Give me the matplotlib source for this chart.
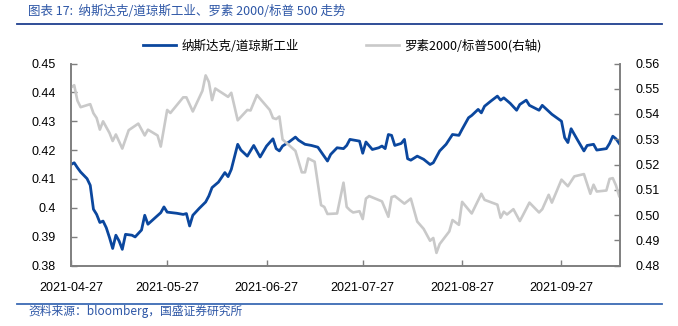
import matplotlib
matplotlib.use('Agg')
import matplotlib.pyplot as plt
import matplotlib.dates as mdates
from matplotlib.lines import Line2D
import pandas as pd

plt.rcParams['font.family'] = ['Liberation Sans', 'Noto Sans CJK SC', 'DejaVu Sans']

# 纳斯达克/道琼斯工业 (left axis)
ndx_dates = [
    '2021-04-27', '2021-04-28', '2021-04-29', '2021-04-30', '2021-05-02', '2021-05-03',
    '2021-05-04', '2021-05-05', '2021-05-06', '2021-05-07', '2021-05-08', '2021-05-09',
    '2021-05-10', '2021-05-11', '2021-05-12', '2021-05-13', '2021-05-14', '2021-05-16',
    '2021-05-17', '2021-05-19', '2021-05-20', '2021-05-21', '2021-05-23', '2021-05-25',
    '2021-05-26', '2021-05-27', '2021-05-30', '2021-06-01', '2021-06-02', '2021-06-03',
    '2021-06-04', '2021-06-06', '2021-06-08', '2021-06-09', '2021-06-10', '2021-06-12',
    '2021-06-14', '2021-06-15', '2021-06-16', '2021-06-18', '2021-06-19', '2021-06-21',
    '2021-06-23', '2021-06-25', '2021-06-27', '2021-06-29', '2021-06-30', '2021-07-01',
    '2021-07-02', '2021-07-04', '2021-07-06', '2021-07-07', '2021-07-09', '2021-07-11',
    '2021-07-13', '2021-07-16', '2021-07-17', '2021-07-19', '2021-07-21', '2021-07-22',
    '2021-07-23', '2021-07-26', '2021-07-27', '2021-07-28', '2021-07-30', '2021-08-01',
    '2021-08-02', '2021-08-03', '2021-08-04', '2021-08-05', '2021-08-06', '2021-08-08',
    '2021-08-09', '2021-08-10', '2021-08-11', '2021-08-13', '2021-08-15', '2021-08-17',
    '2021-08-18', '2021-08-20', '2021-08-22', '2021-08-24', '2021-08-26', '2021-08-27',
    '2021-08-29', '2021-08-30', '2021-09-01', '2021-09-02', '2021-09-03', '2021-09-05',
    '2021-09-07', '2021-09-08', '2021-09-09', '2021-09-11', '2021-09-13', '2021-09-14',
    '2021-09-16', '2021-09-17', '2021-09-20', '2021-09-21', '2021-09-24', '2021-09-27',
    '2021-09-28', '2021-09-29', '2021-09-30', '2021-10-02', '2021-10-04', '2021-10-05',
    '2021-10-07', '2021-10-08', '2021-10-11', '2021-10-12', '2021-10-13', '2021-10-14',
    '2021-10-15',
]
ndx_ratio = [
    0.4150, 0.4156, 0.4139, 0.4124, 0.4101, 0.4078,
    0.3995, 0.3977, 0.3949, 0.3954, 0.3931, 0.3897,
    0.3859, 0.3905, 0.3885, 0.3856, 0.3908, 0.3905,
    0.3899, 0.3923, 0.3974, 0.3943, 0.3963, 0.3983,
    0.4003, 0.3985, 0.3981, 0.3977, 0.3980, 0.3937,
    0.3974, 0.3998, 0.4020, 0.4041, 0.4070, 0.4089,
    0.4122, 0.4108, 0.4133, 0.4220, 0.4200, 0.4179,
    0.4216, 0.4176, 0.4214, 0.4239, 0.4205, 0.4197,
    0.4214, 0.4228, 0.4245, 0.4234, 0.4220, 0.4216,
    0.4210, 0.4162, 0.4185, 0.4208, 0.4205, 0.4216,
    0.4237, 0.4231, 0.4189, 0.4228, 0.4202, 0.4208,
    0.4214, 0.4205, 0.4254, 0.4251, 0.4216, 0.4223,
    0.4237, 0.4170, 0.4165, 0.4179, 0.4168, 0.4150,
    0.4156, 0.4197, 0.4220, 0.4254, 0.4251, 0.4272,
    0.4312, 0.4320, 0.4341, 0.4329, 0.4352, 0.4370,
    0.4387, 0.4373, 0.4381, 0.4362, 0.4338, 0.4358,
    0.4373, 0.4355, 0.4338, 0.4355, 0.4324, 0.4300,
    0.4243, 0.4226, 0.4274, 0.4235, 0.4197, 0.4216,
    0.4220, 0.4200, 0.4205, 0.4223, 0.4248, 0.4239,
    0.4223,
]

# 罗素2000/标普500 (right axis)
rut_dates = [
    '2021-04-27', '2021-04-28', '2021-04-29', '2021-04-30', '2021-05-03', '2021-05-04',
    '2021-05-05', '2021-05-06', '2021-05-07', '2021-05-09', '2021-05-10', '2021-05-11',
    '2021-05-13', '2021-05-15', '2021-05-18', '2021-05-20', '2021-05-21', '2021-05-24',
    '2021-05-25', '2021-05-27', '2021-05-28', '2021-06-01', '2021-06-02', '2021-06-04',
    '2021-06-07', '2021-06-08', '2021-06-09', '2021-06-10', '2021-06-11', '2021-06-15',
    '2021-06-16', '2021-06-18', '2021-06-21', '2021-06-22', '2021-06-24', '2021-06-28',
    '2021-06-29', '2021-06-30', '2021-07-01', '2021-07-02', '2021-07-06', '2021-07-08',
    '2021-07-09', '2021-07-10', '2021-07-12', '2021-07-14', '2021-07-15', '2021-07-16',
    '2021-07-19', '2021-07-21', '2021-07-22', '2021-07-23', '2021-07-24', '2021-07-26',
    '2021-07-27', '2021-07-28', '2021-07-29', '2021-08-02', '2021-08-04', '2021-08-05',
    '2021-08-06', '2021-08-09', '2021-08-11', '2021-08-13', '2021-08-15', '2021-08-17',
    '2021-08-18', '2021-08-19', '2021-08-20', '2021-08-23', '2021-08-24', '2021-08-26',
    '2021-08-27', '2021-08-30', '2021-09-02', '2021-09-03', '2021-09-07', '2021-09-08',
    '2021-09-09', '2021-09-10', '2021-09-12', '2021-09-14', '2021-09-15', '2021-09-17',
    '2021-09-20', '2021-09-21', '2021-09-23', '2021-09-24', '2021-09-27', '2021-09-29',
    '2021-10-01', '2021-10-04', '2021-10-06', '2021-10-07', '2021-10-08', '2021-10-11',
    '2021-10-12', '2021-10-13', '2021-10-14', '2021-10-15',
]
rut_ratio = [
    0.5505, 0.5514, 0.5453, 0.5427, 0.5439, 0.5403,
    0.5384, 0.5338, 0.5371, 0.5325, 0.5293, 0.5319,
    0.5263, 0.5336, 0.5362, 0.5315, 0.5338, 0.5315,
    0.5271, 0.5416, 0.5404, 0.5466, 0.5466, 0.5410,
    0.5492, 0.5553, 0.5527, 0.5455, 0.5501, 0.5468,
    0.5484, 0.5375, 0.5416, 0.5414, 0.5475, 0.5416,
    0.5384, 0.5380, 0.5390, 0.5299, 0.5254, 0.5169,
    0.5169, 0.5224, 0.5211, 0.5039, 0.5032, 0.5004,
    0.5006, 0.5128, 0.5032, 0.5019, 0.5010, 0.5015,
    0.4984, 0.5065, 0.5075, 0.5054, 0.4993, 0.5071,
    0.5075, 0.5045, 0.5065, 0.4974, 0.4945, 0.4898,
    0.4909, 0.4850, 0.4885, 0.4935, 0.4980, 0.4961,
    0.5052, 0.5006, 0.5084, 0.5060, 0.5041, 0.4989,
    0.5013, 0.5002, 0.5023, 0.4976, 0.5000, 0.5049,
    0.5010, 0.5023, 0.5080, 0.5049, 0.5140, 0.5114,
    0.5153, 0.5162, 0.5084, 0.5120, 0.5093, 0.5097,
    0.5143, 0.5146, 0.5117, 0.5075,
]

tick_dates = ['2021-04-27', '2021-05-27', '2021-06-27', '2021-07-27', '2021-08-27', '2021-09-27']
left_ticks = [0.38, 0.39, 0.40, 0.41, 0.42, 0.43, 0.44, 0.45]
right_ticks = [0.48, 0.49, 0.50, 0.51, 0.52, 0.53, 0.54, 0.55, 0.56]

BLUE = '#0B479E'
GRAY = '#C9C9C9'
SPINE = '#7F7F7F'
TITLE_BLUE = '#2D56A6'

fig = plt.figure(figsize=(6.78, 3.26), dpi=100)
ax = fig.add_axes([71 / 678, 1 - 265.5 / 326, (620 - 71) / 678, (265.5 - 63.5) / 326])
ax2 = ax.twinx()

x1 = pd.to_datetime(ndx_dates)
x2 = pd.to_datetime(rut_dates)
l1, = ax.plot(x1, ndx_ratio, color=BLUE, lw=2.0, solid_joinstyle='round')
l2, = ax2.plot(x2, rut_ratio, color=GRAY, lw=1.9, solid_joinstyle='round')

ax.set_xlim(pd.Timestamp('2021-04-27'), pd.Timestamp('2021-10-15 06:00'))
ax.set_ylim(0.38, 0.45)
ax2.set_ylim(0.48, 0.56)

ax.set_yticks(left_ticks)
ax.set_yticklabels(['%g' % round(v, 2) for v in left_ticks])
ax2.set_yticks(right_ticks)
ax2.set_yticklabels(['%.2f' % v for v in right_ticks])
ax.set_xticks(pd.to_datetime(tick_dates))
ax.xaxis.set_major_formatter(mdates.DateFormatter('%Y-%m-%d'))

for a in (ax, ax2):
    a.spines['top'].set_visible(False)
    for s in ('left', 'right', 'bottom'):
        a.spines[s].set_color(SPINE)
        a.spines[s].set_linewidth(1.2)
    a.patch.set_visible(False)

ax.tick_params(axis='y', direction='in', length=4, width=1, color=SPINE,
               pad=11, labelsize=9, labelcolor='black')
ax.tick_params(axis='x', direction='in', length=4, width=1, color=SPINE,
               pad=12, labelsize=9, labelcolor='black')
ax2.tick_params(axis='y', direction='in', length=4, width=1, color=SPINE,
                pad=11, labelsize=9, labelcolor='black')

cjk = ['Noto Sans CJK SC', 'DejaVu Sans']
leg = fig.legend([l1, l2], ['纳斯达克/道琼斯工业', '罗素2000/标普500(右轴)'],
                 loc='center left', bbox_to_anchor=(132 / 678, 1 - 46 / 326),
                 ncol=2, frameon=False, handlelength=2.6, handletextpad=0.45,
                 columnspacing=5.4, prop={'family': cjk, 'size': 9})

fig.text(28 / 678, 1 - 11 / 326, '图表 17:  纳斯达克/道琼斯工业、罗素 2000/标普 500 走势',
         family=cjk, style='italic', fontsize=9, color=TITLE_BLUE,
         ha='left', va='center')
fig.add_artist(Line2D([17 / 678, 662 / 678], [1 - 24.3 / 326] * 2,
                      transform=fig.transFigure, color='#1F3F8F', lw=1.3))
fig.add_artist(Line2D([17 / 678, 662 / 678], [1 - 303.7 / 326] * 2,
                      transform=fig.transFigure, color='#3C6AB4', lw=1.3))
fig.text(28 / 678, 1 - 311.5 / 326, '资料来源：bloomberg，国盛证券研究所',
         family=cjk, style='italic', fontsize=8.5, color=TITLE_BLUE,
         ha='left', va='center')

fig.savefig('out.png', dpi=100)
